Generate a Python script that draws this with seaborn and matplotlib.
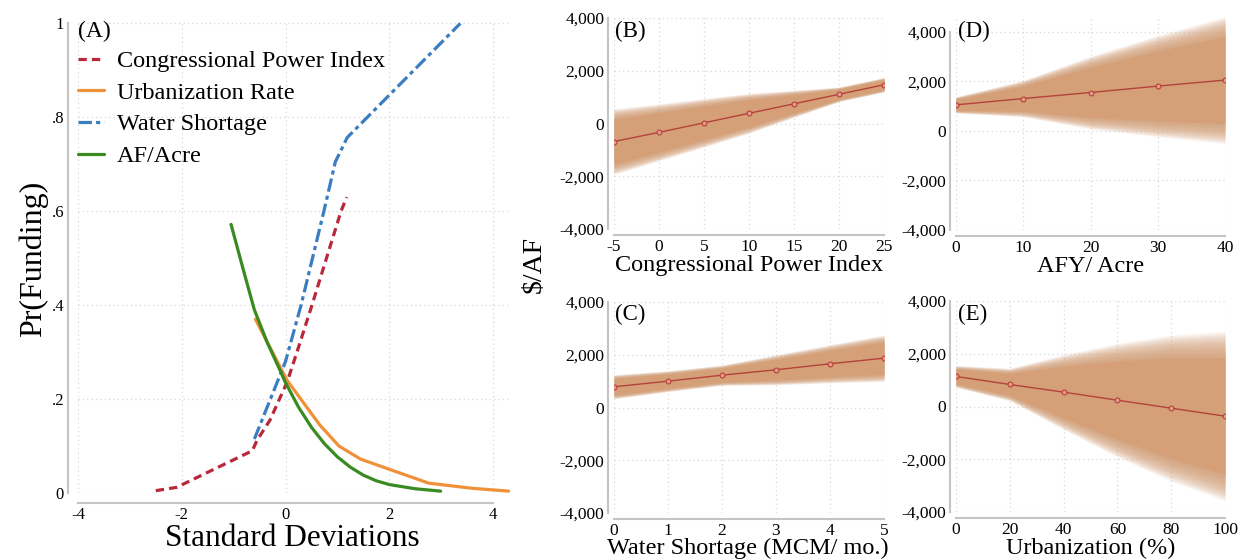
import numpy as np
import pandas as pd
import matplotlib
matplotlib.use("Agg")
import matplotlib.pyplot as plt
import seaborn as sns

# panel A: predicted probability by standard deviations
sd_cpi = [-2.5, -2.1, -0.64, -0.55, -0.3, 0.03, 0.25, 0.51, 1.07, 1.18]
pr_cpi = [0.005, 0.012, 0.09, 0.112, 0.155, 0.236, 0.31, 0.40, 0.60, 0.63]
sd_urb = [-0.58, 0.03, 0.66, 1.03, 1.45, 2.76, 3.6, 4.3]
pr_urb = [0.37, 0.24, 0.145, 0.10, 0.072, 0.021, 0.01, 0.004]
sd_ws = [-0.6, 0.0, 0.3, 0.74, 0.96, 1.19, 3.37]
pr_ws = [0.115, 0.28, 0.40, 0.60, 0.705, 0.757, 1.0]
sd_af = [-1.05, -0.8, -0.6, -0.35, -0.1, 0.0, 0.25, 0.5, 0.75, 1.0, 1.25, 1.5, 1.75, 2.0, 2.5, 2.99]
pr_af = [0.572, 0.47, 0.39, 0.32, 0.26, 0.235, 0.183, 0.14, 0.105, 0.077, 0.055, 0.038, 0.026,
         0.018, 0.009, 0.004]

# panels B-E: $/AF estimates and standard errors
cpi_x = [-5, 0, 5, 10, 15, 20, 25]
cpi_est = [-685, -336, 26, 387, 747, 1107, 1470]
cpi_se = [439, 380, 325, 266, 180, 97, 97]
afy_x = [0, 10, 20, 30, 40]
afy_est = [1053, 1308, 1551, 1810, 2053]
afy_se = [114, 258, 516, 720, 900]
ws_x = [0, 1, 2, 3, 4, 5]
ws_est = [786, 998, 1226, 1430, 1658, 1871]
ws_se = [161, 139, 135, 200, 255, 310]
urb_x = [0, 20, 40, 60, 80, 100]
urb_est = [1139, 835, 544, 240, -63, -367]
urb_se = [145, 216, 500, 758, 975, 1129]

ytick_vals = [-4000, -2000, 0, 2000, 4000]
ytick_labs = ["-4,000", "-2,000", "0", "2,000", "4,000"]

sns.set_theme(style="white")
plt.rcParams['font.family'] = ['Liberation Serif', 'DejaVu Serif']
plt.rcParams['text.color'] = 'black'
plt.rcParams['axes.labelcolor'] = 'black'
plt.rcParams['xtick.color'] = 'black'
plt.rcParams['ytick.color'] = 'black'
plt.rcParams['axes.unicode_minus'] = False

W, H = 1238, 559
fig = plt.figure(figsize=(W / 100, H / 100), dpi=100)

spine_col = '#C4C4C4'
grid_kw = dict(color='#D8D8D8', linestyle=(0, (1, 2.5)), linewidth=0.9)


def px_axes(left, right, top, bottom):
    return fig.add_axes([left / W, 1 - bottom / H, (right - left) / W, (bottom - top) / H])


def style_axes(ax, offset, size):
    ax.grid(True, **grid_kw)
    ax.set_axisbelow(True)
    sns.despine(ax=ax, offset=offset, trim=True)
    for s in ['left', 'bottom']:
        ax.spines[s].set_color(spine_col)
        ax.spines[s].set_linewidth(1.5)
    ax.tick_params(length=0, labelsize=size, pad=3)


# ---- panel A
axA = px_axes(78, 78 + 415 / 8 * 8.35, 22, 493)
lines_a = pd.DataFrame({
    'sd': sd_cpi + sd_urb + sd_ws + sd_af,
    'pr': pr_cpi + pr_urb + pr_ws + pr_af,
    'series': (['Congressional Power Index'] * len(sd_cpi) + ['Urbanization Rate'] * len(sd_urb)
               + ['Water Shortage'] * len(sd_ws) + ['AF/Acre'] * len(sd_af)),
})
pal = {'Congressional Power Index': '#B8283A', 'Urbanization Rate': '#F0913A',
       'Water Shortage': '#3A7DC0', 'AF/Acre': '#3A8A22'}
dash = {'Congressional Power Index': (2.6, 1.6), 'Urbanization Rate': '',
        'Water Shortage': (4.2, 1.3, 1.3, 1.3), 'AF/Acre': ''}
sns.lineplot(data=lines_a, x='sd', y='pr', hue='series', style='series', palette=pal,
             dashes=dash, hue_order=list(pal), style_order=list(pal), lw=2.3,
             errorbar=None, sort=False, ax=axA)
axA.set_xlim(-4, 4.35)
axA.set_ylim(0, 1.003)
axA.set_xticks([-4, -2, 0, 2, 4])
axA.set_yticks([0, .2, .4, .6, .8, 1])
axA.set_yticklabels(["0", ".2", ".4", ".6", ".8", "1"])
axA.set_xlabel("")
axA.set_ylabel("")
style_axes(axA, 7, 12)
axA.legend(loc='upper left', bbox_to_anchor=(78 / W, 1 - 50 / H), bbox_transform=fig.transFigure,
           frameon=False, fontsize=17.5, handlelength=1.05, handletextpad=0.55,
           labelspacing=0.4, borderpad=0, borderaxespad=0)
fig.text(78 / W, 1 - 31 / H, "(A)", fontsize=17, va='center', ha='left')
fig.text(33 / W, 1 - 259 / H, "Pr(Funding)", fontsize=23, rotation=90, va='center', ha='center')
fig.text(292 / W, 1 - 539 / H, "Standard Deviations", fontsize=22.5, va='center', ha='center')
fig.text(534 / W, 1 - 264 / H, r"\$/AF", fontsize=20, rotation=90, va='center', ha='center')

band_col = '#D5A078'
line_col = '#B5423A'


def effect_panel(ax, x, est, se, xticks, ylim_top, label, letter, lab_xy, let_xy):
    est = np.array(est, dtype=float)
    se = np.array(se, dtype=float)
    for z in np.linspace(2.85, 2.0, 26):
        ax.fill_between(x, est - z * se, est + z * se, color=band_col, alpha=0.07, lw=0)
    ax.fill_between(x, est - 1.96 * se, est + 1.96 * se, color=band_col, lw=0)
    sns.lineplot(x=x, y=est, ax=ax, color=line_col, lw=1.0, marker='o', ms=3.5,
                 mfc='#E79A8C', mec=line_col, mew=0.8, errorbar=None)
    ax.set_xlim(xticks[0], xticks[-1])
    ax.set_ylim(-4000, ylim_top)
    ax.set_xticks(xticks)
    ax.set_yticks(ytick_vals)
    ax.set_yticklabels(ytick_labs)
    style_axes(ax, 4, 12.5)
    fig.text(lab_xy[0] / W, 1 - lab_xy[1] / H, label, fontsize=17.5, va='center', ha='center')
    fig.text(let_xy[0] / W, 1 - let_xy[1] / H, letter, fontsize=16.5, va='center', ha='left')


axB = px_axes(614, 884, 18, 229)
effect_panel(axB, cpi_x, cpi_est, cpi_se, [-5, 0, 5, 10, 15, 20, 25], 4000,
             "Congressional Power Index", "(B)", (749, 266), (615, 31))
axD = px_axes(956, 1225, 17, 230)
effect_panel(axD, afy_x, afy_est, afy_se, [0, 10, 20, 30, 40], 4600,
             "AFY/ Acre", "(D)", (1091, 266), (958, 31))
axC = px_axes(614, 884, 302, 513)
effect_panel(axC, ws_x, ws_est, ws_se, [0, 1, 2, 3, 4, 5], 4000,
             "Water Shortage (MCM/ mo.)", "(C)", (748, 548), (615, 314))
axE = px_axes(956, 1225, 301, 512)
effect_panel(axE, urb_x, urb_est, urb_se, [0, 20, 40, 60, 80, 100], 4000,
             "Urbanization (%)", "(E)", (1091, 548), (958, 314))

fig.savefig("out.png", dpi=100)
